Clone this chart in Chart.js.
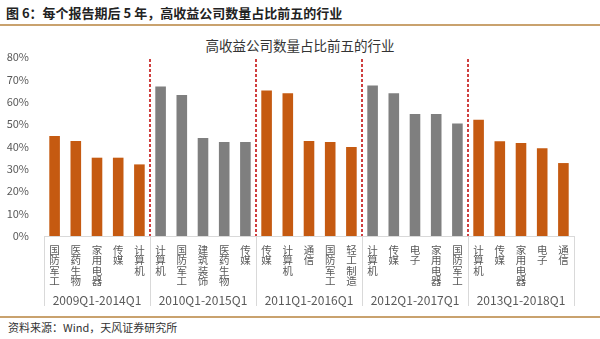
<!DOCTYPE html>
<html>
<head>
<meta charset="utf-8">
<script src="https://cdn.jsdelivr.net/npm/chart.js@4.4.1/dist/chart.umd.min.js"></script>
<style>
  body { margin: 0; width: 600px; height: 339px; background: #fff; position: relative; overflow: hidden;
         font-family: "Noto Sans CJK SC", sans-serif; }
  #head { position: absolute; left: 6px; top: 3px; font-size: 13px; font-weight: bold; color: #222; }
  .rule { position: absolute; left: 0; width: 600px; height: 2px; background: #C9A26E; }
  #title { position: absolute; left: 0; top: 35px; width: 600px; text-align: center; font-size: 13.5px; color: #333; }
  #wrap { position: absolute; left: 0; top: 30px; width: 600px; height: 280px; }
  #src { position: absolute; left: 8px; top: 319px; font-size: 11px; color: #333; }
</style>
</head>
<body>
<div id="head">图 6：每个报告期后 5 年，高收益公司数量占比前五的行业</div>
<div class="rule" style="top:24px"></div>
<div id="title">高收益公司数量占比前五的行业</div>
<div id="wrap"><canvas id="chart"></canvas></div>
<div class="rule" style="top:316px"></div>
<div id="src">资料来源：Wind，天风证券研究所</div>

<script>
// data (percent)
const periods = ["2009Q1-2014Q1", "2010Q1-2015Q1", "2011Q1-2016Q1", "2012Q1-2017Q1", "2013Q1-2018Q1"];
const categories = [
  "国防军工", "医药生物", "家用电器", "传媒", "计算机",
  "计算机", "国防军工", "建筑装饰", "医药生物", "传媒",
  "传媒", "计算机", "通信", "国防军工", "轻工制造",
  "计算机", "传媒", "电子", "家用电器", "国防军工",
  "计算机", "传媒", "家用电器", "电子", "通信"
];
const values = [
  44.7, 42.5, 35.0, 35.0, 32.0,
  66.8, 63.0, 43.8, 42.0, 42.0,
  65.0, 63.8, 42.5, 42.0, 39.8,
  67.3, 63.8, 54.5, 54.5, 50.3,
  52.0, 42.3, 41.6, 39.2, 32.6
];
const yTicks = [0, 10, 20, 30, 40, 50, 60, 70, 80];

const PER_GROUP = 5;
const ORANGE = "#C55A11";
const GREY = "#7F7F7F";
const FONT = '"Noto Sans CJK SC", sans-serif';

const barColors = values.map((v, i) => (Math.floor(i / PER_GROUP) % 2 === 0 ? ORANGE : GREY));

// group separators, group names and red dashed dividers
const groupPlugin = {
  id: "groups",
  afterDraw(chart) {
    const ctx = chart.ctx;
    const x = chart.scales.x;
    const area = chart.chartArea;
    const step = x.width / categories.length;

    ctx.save();
    // light grey separators in the label area
    ctx.strokeStyle = "#D9D9D9";
    ctx.lineWidth = 1;
    for (let g = 0; g <= periods.length; g++) {
      const px = Math.round(x.left + g * PER_GROUP * step) + 0.5;
      ctx.beginPath();
      ctx.moveTo(px, area.bottom);
      ctx.lineTo(px, area.bottom + 70);
      ctx.stroke();
    }
    // red dashed dividers inside the plot
    ctx.strokeStyle = "#C00000";
    ctx.lineWidth = 1.5;
    ctx.setLineDash([3, 2]);
    for (let g = 1; g < periods.length; g++) {
      const px = Math.round(x.left + g * PER_GROUP * step);
      ctx.beginPath();
      ctx.moveTo(px, area.top + 2);
      ctx.lineTo(px, area.bottom);
      ctx.stroke();
    }
    ctx.setLineDash([]);
    // period names
    ctx.fillStyle = "#595959";
    ctx.font = "12px " + FONT;
    ctx.textAlign = "center";
    ctx.textBaseline = "middle";
    periods.forEach((p, g) => {
      const cx = x.left + (g + 0.5) * PER_GROUP * step;
      ctx.fillText(p, cx, area.bottom + 64);
    });
    ctx.restore();
  }
};

new Chart(document.getElementById("chart"), {
  type: "bar",
  data: {
    labels: categories.map((c) => c.split("")),
    datasets: [{
      data: values,
      backgroundColor: barColors,
      barPercentage: 0.5,
      categoryPercentage: 1.0
    }]
  },
  options: {
    responsive: true,
    maintainAspectRatio: false,
    animation: false,
    layout: { padding: { left: 0, right: 26, top: 27, bottom: 0 } },
    plugins: {
      legend: { display: false },
      tooltip: { enabled: false }
    },
    scales: {
      x: {
        grid: { display: false, drawTicks: false },
        border: { display: true, color: "#D9D9D9" },
        ticks: {
          autoSkip: false,
          maxRotation: 0,
          minRotation: 0,
          padding: 9,
          color: "#595959",
          font: { family: FONT, size: 10.5, lineHeight: 0.98 }
        },
        afterFit(scale) { scale.height = 74; }
      },
      y: {
        min: 0,
        max: 80,
        afterBuildTicks(scale) { scale.ticks = yTicks.map((v) => ({ value: v })); },
        grid: { display: false },
        border: { display: false },
        ticks: {
          color: "#595959",
          padding: 7,
          font: { family: FONT, size: 11 },
          callback: (v) => v + "%"
        },
        afterFit(scale) { scale.width = 44; }
      }
    }
  },
  plugins: [groupPlugin]
});
</script>
</body>
</html>
